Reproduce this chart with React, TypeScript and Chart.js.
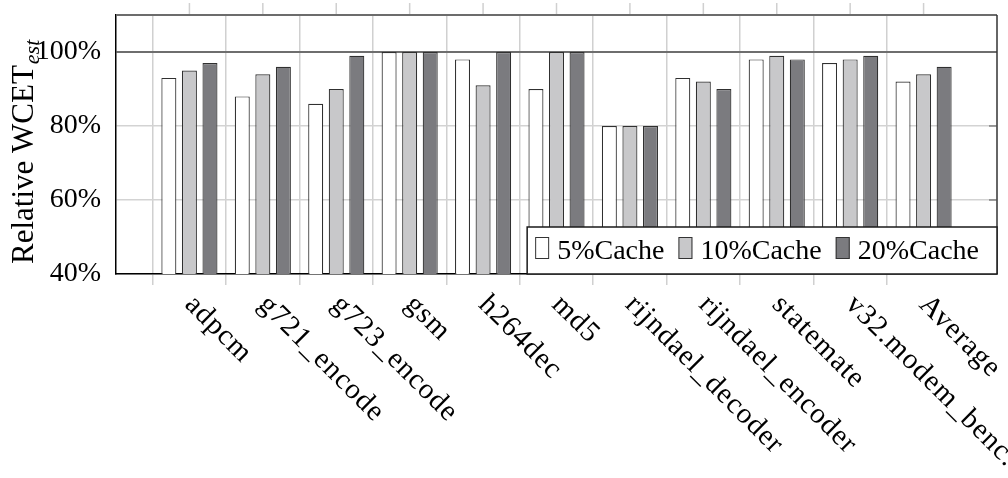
import { useEffect, useRef } from 'react';
import { Chart, registerables } from 'chart.js';

Chart.register(...registerables);

const categories = [
  'adpcm',
  'g721_encode',
  'g723_encode',
  'gsm',
  'h264dec',
  'md5',
  'rijndael_decoder',
  'rijndael_encoder',
  'statemate',
  'v32.modem_benc.',
  'Average',
];
const cache5 = [93, 88, 86, 100, 98, 90, 80, 93, 98, 97, 92];
const cache10 = [95, 94, 90, 100, 91, 100, 80, 92, 99, 98, 94];
const cache20 = [97, 96, 99, 100, 100, 100, 80, 90, 98, 99, 96];
const seriesNames = ['5%Cache', '10%Cache', '20%Cache'];
const seriesColors = ['#ffffff', '#c8c8ca', '#7b7b7f'];
const yTickValues = [40, 60, 80, 100];
const Y_MIN = 40;
const Y_MAX = 110;
const yTitle = 'Relative WCET';
const yTitleSub = 'est';

const FONT = '"Liberation Serif", "DejaVu Serif", serif';

function pad(arr: number[]) {
  return [null, ...arr, null];
}

const overlayPlugin = {
  id: 'overlay',
  afterDraw(chart: any) {
    const { ctx, chartArea: a, scales } = chart;
    const xs = scales.x;
    const ys = scales.y;
    const line = (x1: number, y1: number, x2: number, y2: number) => {
      ctx.beginPath();
      ctx.moveTo(x1, y1);
      ctx.lineTo(x2, y2);
      ctx.stroke();
    };
    ctx.save();
    // tick marks above plot
    ctx.strokeStyle = '#d0d0d0';
    ctx.lineWidth = 1.5;
    for (let i = 1; i <= categories.length; i++) {
      const px = xs.getPixelForTick(i);
      line(px, a.top - 12, px, a.top);
    }
    // top border
    ctx.strokeStyle = '#6c6c6c';
    ctx.lineWidth = 2;
    line(a.left, a.top, a.right, a.top);
    // right border
    ctx.strokeStyle = '#333333';
    ctx.lineWidth = 1.5;
    line(a.right, a.top, a.right, a.bottom);
    // inner right ticks
    ctx.strokeStyle = '#555555';
    ctx.lineWidth = 1;
    yTickValues.forEach((v) => {
      if (v > Y_MIN && v < 100) {
        const py = ys.getPixelForValue(v);
        line(a.right - 8, py, a.right, py);
      }
    });

    // x labels rotated
    ctx.save();
    ctx.fillStyle = '#000';
    ctx.font = '29px ' + FONT;
    try {
      (ctx as any).letterSpacing = '1px';
    } catch (e) {
      /* ignore */
    }
    ctx.textAlign = 'left';
    ctx.textBaseline = 'top';
    categories.forEach((c, i) => {
      const px = xs.getPixelForTick(i + 1);
      ctx.save();
      ctx.translate(px + 10, a.bottom + 16);
      ctx.rotate(Math.PI / 4);
      ctx.fillText(c, 0, 0);
      ctx.restore();
    });
    ctx.restore();

    // y title
    ctx.save();
    ctx.fillStyle = '#000';
    ctx.translate(33, 264);
    ctx.rotate(-Math.PI / 2);
    ctx.textBaseline = 'alphabetic';
    ctx.textAlign = 'left';
    ctx.font = '31px ' + FONT;
    ctx.fillText(yTitle, 0, 0);
    const w = ctx.measureText(yTitle).width;
    ctx.font = 'italic 22px ' + FONT;
    ctx.fillText(yTitleSub, w + 1, 6);
    ctx.restore();

    // legend
    ctx.font = '28px ' + FONT;
    ctx.textAlign = 'left';
    ctx.textBaseline = 'alphabetic';
    const sqW = 14;
    const sqH = 22;
    const padL = 8;
    const gapSq = 8;
    const gapItem = 14;
    const padR = 18;
    const widths = seriesNames.map((s) => ctx.measureText(s).width);
    let total = padL + padR;
    widths.forEach((tw, i) => {
      total += sqW + gapSq + tw + (i < widths.length - 1 ? gapItem : 0);
    });
    const lh = 47;
    const lx = a.right - total;
    const ly = a.bottom - lh;
    ctx.fillStyle = '#ffffff';
    ctx.fillRect(lx, ly, total, lh);
    ctx.strokeStyle = '#1a1a1a';
    ctx.lineWidth = 1.5;
    ctx.strokeRect(lx, ly, total, lh);
    let cx = lx + padL;
    const ds = chart.data.datasets;
    seriesNames.forEach((s, i) => {
      ctx.fillStyle = ds[i].backgroundColor;
      ctx.fillRect(cx, ly + 10, sqW, sqH);
      ctx.strokeStyle = '#333333';
      ctx.lineWidth = 1;
      ctx.strokeRect(cx + 0.5, ly + 10.5, sqW - 1, sqH - 1);
      cx += sqW + gapSq;
      ctx.fillStyle = '#000';
      ctx.fillText(s, cx, ly + 32);
      cx += widths[i] + gapItem;
    });
    ctx.restore();
  },
};

export default function App() {
  const ref = useRef<HTMLCanvasElement | null>(null);
  useEffect(() => {
    if (!ref.current) return;
    const labels = ['', ...categories, ''];
    const chart = new Chart(ref.current, {
      type: 'bar',
      data: {
        labels,
        datasets: [cache5, cache10, cache20].map((d, i) => ({
          label: seriesNames[i],
          data: pad(d) as any,
          backgroundColor: seriesColors[i],
          borderColor: '#303030',
          borderWidth: 1.2,
          categoryPercentage: 0.84,
          barPercentage: 0.73,
        })),
      },
      options: {
        animation: false,
        responsive: false,
        devicePixelRatio: 1,
        layout: { padding: { left: 0, top: 15, right: 11, bottom: 0 } },
        plugins: {
          legend: { display: false },
          tooltip: { enabled: false },
        },
        scales: {
          x: {
            offset: false,
            grid: {
              color: (c: any) =>
                c.index === 0 || c.index === labels.length - 1 ? 'rgba(0,0,0,0)' : '#d0d0d0',
              lineWidth: 1.5,
              drawTicks: true,
              tickLength: 11,
            },
            border: { color: '#000000', width: 1.5 },
            ticks: { display: false },
            afterFit: (s: any) => {
              s.height = 204;
              s.paddingLeft = 0;
              s.paddingRight = 0;
            },
          },
          y: {
            min: Y_MIN,
            max: Y_MAX,
            grid: {
              color: (c: any) => (c.tick && c.tick.value === 100 ? '#6e6e6e' : '#d3d3d3'),
              lineWidth: (c: any) => (c.tick && c.tick.value === 100 ? 2 : 1.5),
              drawTicks: false,
            },
            border: { color: '#000000', width: 1.5 },
            ticks: {
              stepSize: 20,
              includeBounds: false,
              padding: 15,
              color: '#000',
              font: { family: FONT, size: 28 },
              callback: (v: any) => (yTickValues.includes(Number(v)) ? v + '%' : ''),
            },
            afterFit: (s: any) => {
              s.width = 116;
              s.paddingTop = 0;
              s.paddingBottom = 0;
            },
          },
        },
      },
      plugins: [overlayPlugin],
    });
    return () => chart.destroy();
  }, []);
  return (
    <div style={{ position: 'fixed', left: 0, top: 0, width: 1008, height: 478, background: '#fff' }}>
      <canvas ref={ref} width={1008} height={478} />
    </div>
  );
}
